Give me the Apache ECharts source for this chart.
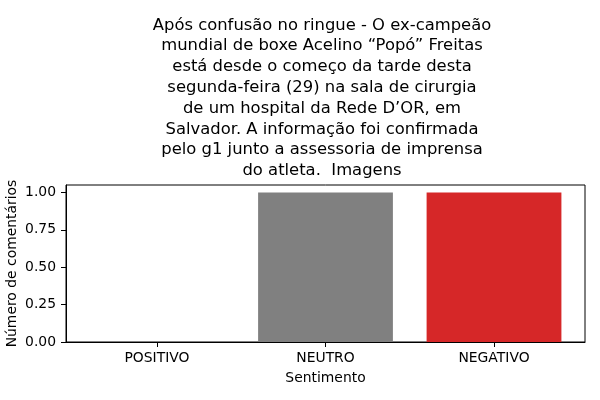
<!DOCTYPE html>
<html>
<head>
<meta charset="utf-8">
<script src="https://cdn.jsdelivr.net/npm/echarts@6/dist/echarts.min.js"></script>
<style>
  html, body { margin: 0; padding: 0; background: #fff; }
  #chart { width: 600px; height: 400px; }
</style>
</head>
<body>
<div id="chart"></div>
<script>
const categories = ['POSITIVO', 'NEUTRO', 'NEGATIVO'];
const counts = [0, 1, 1];
const barColors = ['#2ca02c', '#808080', '#d62728'];
const yTicks = [0, 0.25, 0.5, 0.75, 1];
const titleText = 'Após confusão no ringue - O ex-campeão\nmundial de boxe Acelino “Popó” Freitas\nestá desde o começo da tarde desta\nsegunda-feira (29) na sala de cirurgia\nde um hospital da Rede D’OR, em\nSalvador. A informação foi confirmada\npelo g1 junto a assessoria de imprensa\ndo atleta.  Imagens';

const font = 'DejaVu Sans';
const chart = echarts.init(document.getElementById('chart'));

const option = {
    animation: false,
    title: {
        text: titleText,
        left: 317,
        top: 10,
        textAlign: 'center',
        textStyle: {
            fontFamily: font,
            fontSize: 16.4,
            fontWeight: 'normal',
            color: '#000',
            lineHeight: 20.8
        }
    },
    grid: {
        left: 66,
        right: 15,
        top: 185,
        bottom: 58,
        containLabel: false,
        outerBoundsMode: 'none',
        show: true,
        borderColor: '#000',
        borderWidth: 1
    },
    xAxis: {
        type: 'value',
        min: -0.54,
        max: 2.54,
        name: 'Sentimento',
        nameLocation: 'middle',
        nameGap: 29,
        nameMoveOverlap: false,
        nameTextStyle: { fontFamily: font, fontSize: 13.9, color: '#000' },
        splitLine: { show: false },
        axisLine: { onZero: false, lineStyle: { color: '#000' } },
        axisTick: { customValues: [0, 1, 2], length: 5, lineStyle: { color: '#000' } },
        axisLabel: {
            customValues: [0, 1, 2],
            formatter: (v) => categories[Math.round(v)],
            fontFamily: font,
            fontSize: 13.9,
            color: '#000',
            margin: 9
        }
    },
    yAxis: {
        type: 'value',
        min: 0,
        max: 1.05,
        name: 'Número de comentários',
        nameLocation: 'middle',
        nameGap: 47,
        nameMoveOverlap: false,
        nameTextStyle: { fontFamily: font, fontSize: 13.9, color: '#000' },
        splitLine: { show: false },
        axisLine: { show: true, onZero: false, lineStyle: { color: '#000' } },
        axisTick: { customValues: yTicks, length: 5, lineStyle: { color: '#000' } },
        axisLabel: {
            customValues: yTicks,
            formatter: (v) => v.toFixed(2),
            fontFamily: font,
            fontSize: 13.9,
            color: '#000',
            margin: 10
        }
    },
    series: [{
        type: 'bar',
        barWidth: '80%',
        data: counts.map((c, i) => ({
            value: [i, c],
            itemStyle: { color: barColors[i] }
        }))
    }]
};

chart.setOption(option);
</script>
</body>
</html>
